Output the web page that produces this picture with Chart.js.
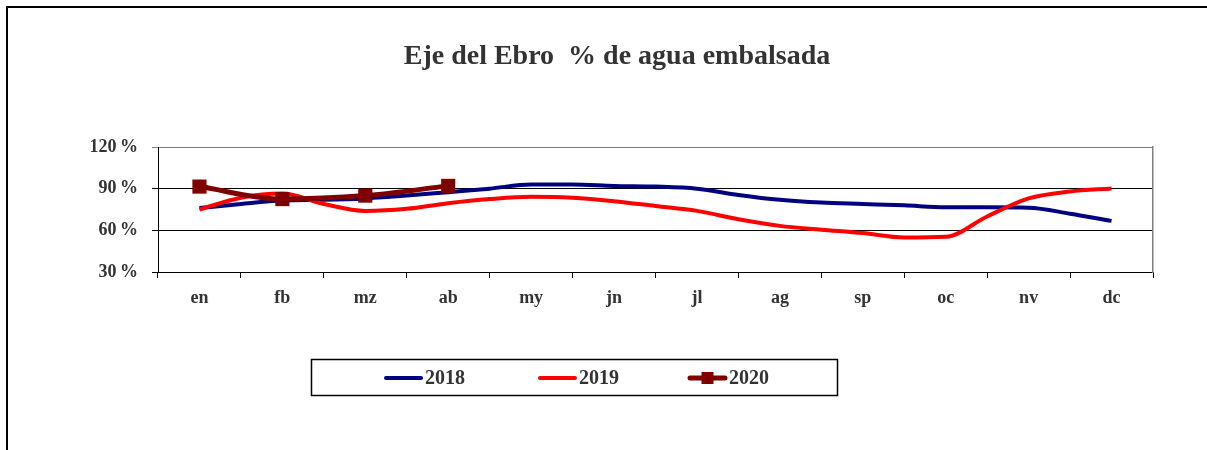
<!DOCTYPE html>
<html>
<head>
<meta charset="utf-8">
<script src="https://cdn.jsdelivr.net/npm/chart.js@4/dist/chart.umd.min.js"></script>
<style>
    html, body { margin: 0; padding: 0; background: #fff; overflow: hidden; }
    #wrap { position: relative; width: 1207px; height: 450px; overflow: hidden; }
    #frame { position: absolute; left: 6px; top: 6px; width: 1250px; height: 480px;
             border-left: 2px solid #000; border-top: 2px solid #000; }
    #box { position: absolute; left: 0; top: 0; width: 1234px; height: 450px; }
</style>
</head>
<body>
<div id="wrap">
    <div id="frame"></div>
    <div id="box"><canvas id="grafico"></canvas></div>
</div>
<script>
// meses del eje
const meses = ['en', 'fb', 'mz', 'ab', 'my', 'jn', 'jl', 'ag', 'sp', 'oc', 'nv', 'dc'];
const ticksY = [30, 60, 90, 120];

// posiciones (índice de mes, cada medio mes)
const pasos = [0, 0.5, 1, 1.5, 2, 2.5, 3, 3.5, 4, 4.5, 5, 5.5, 6, 6.5, 7, 7.5, 8, 8.5, 9, 9.5, 10, 10.5, 11];
const serie2018 = [76, 79, 81.5, 82, 83, 85, 87.5, 90, 93, 93, 92, 91.5, 90, 85.5, 82, 80, 79, 78, 76.6, 76.6, 76.3, 72, 66.8];
const serie2019 = [75, 83.5, 86.5, 79, 74, 75.5, 79.5, 82.5, 84.2, 83.5, 81, 77.5, 74, 68, 63.2, 60.5, 58, 54.8, 55.3, 70, 83, 88, 90.2];

const pasos2020 = [0, 1, 2, 3];
const serie2020 = [91.5, 82.5, 85, 92];

const colores = { 2018: '#000080', 2019: '#ff0000', 2020: '#800000' };
const texto = '#333333';
const fuente = 'Liberation Serif, Times New Roman, serif';

function puntos(xs, ys) {
    return xs.map((x, i) => ({ x: x, y: ys[i] }));
}

// leyenda propia con recuadro
const leyenda = {
    id: 'leyenda',
    afterDraw(chart) {
        const ctx = chart.ctx;
        ctx.save();
        ctx.strokeStyle = '#000';
        ctx.lineWidth = 1.5;
        ctx.strokeRect(311.5, 359.5, 526, 36);
        const inicios = [386, 540, 690];
        const cy = 378;
        ctx.font = 'bold 20px ' + fuente;
        ctx.textBaseline = 'middle';
        ctx.textAlign = 'left';
        chart.data.datasets.forEach((ds, i) => {
            const x0 = inicios[i];
            ctx.strokeStyle = ds.borderColor;
            ctx.lineWidth = ds.borderWidth;
            ctx.lineCap = 'round';
            ctx.beginPath();
            ctx.moveTo(x0, cy);
            ctx.lineTo(x0 + 35, cy);
            ctx.stroke();
            if (ds.pointRadius > 0) {
                ctx.fillStyle = ds.pointBackgroundColor;
                ctx.fillRect(x0 + 17.5 - 6, cy - 6, 12, 12);
            }
            ctx.fillStyle = texto;
            ctx.fillText(ds.label, x0 + 39, cy + 1);
        });
        ctx.restore();
    }
};

const ctx = document.getElementById('grafico').getContext('2d');
new Chart(ctx, {
    type: 'line',
    data: {
        datasets: [
            {
                label: '2018',
                data: puntos(pasos, serie2018),
                xAxisID: 'xd',
                borderColor: colores[2018],
                backgroundColor: colores[2018],
                borderWidth: 4,
                pointRadius: 0,
                cubicInterpolationMode: 'monotone',
                order: 3
            },
            {
                label: '2019',
                data: puntos(pasos, serie2019),
                xAxisID: 'xd',
                borderColor: colores[2019],
                backgroundColor: colores[2019],
                borderWidth: 4,
                pointRadius: 0,
                cubicInterpolationMode: 'monotone',
                order: 2
            },
            {
                label: '2020',
                data: puntos(pasos2020, serie2020),
                xAxisID: 'xd',
                borderColor: colores[2020],
                backgroundColor: colores[2020],
                borderWidth: 5,
                pointStyle: 'rect',
                pointRadius: 10,
                pointBorderWidth: 0,
                pointBackgroundColor: colores[2020],
                cubicInterpolationMode: 'monotone',
                order: 1
            }
        ]
    },
    options: {
        responsive: true,
        maintainAspectRatio: false,
        animation: false,
        layout: { padding: { left: 0, right: 0, top: 0, bottom: 138 } },
        scales: {
            x: {
                type: 'category',
                labels: meses,
                offset: true,
                grid: { offset: true, drawOnChartArea: false, tickLength: 6, color: '#000', lineWidth: 1 },
                border: { color: '#000', width: 1 },
                ticks: { color: texto, font: { family: fuente, size: 18, weight: 'bold' }, padding: 10, maxRotation: 0, autoSkip: false },
                afterFit(s) { s.height = 40; }
            },
            xd: {
                type: 'linear',
                position: 'bottom',
                min: -0.5,
                max: 11.5,
                display: false
            },
            y: {
                min: 30,
                max: 120,
                afterBuildTicks(s) { s.ticks = ticksY.map(v => ({ value: v })); },
                ticks: {
                    color: texto,
                    padding: 14,
                    font: { family: fuente, size: 18, weight: 'bold' },
                    callback: v => v + '\u2009%'
                },
                grid: {
                    tickLength: 6,
                    lineWidth: 1,
                    color: c => (c.tick && c.tick.value === 120) ? '#808080' : '#000'
                },
                border: { color: '#000', width: 1 },
                afterFit(s) { s.width = 158; }
            },
            yr: {
                position: 'right',
                min: 30,
                max: 120,
                ticks: { display: false },
                grid: { display: false, drawOnChartArea: false, drawTicks: false },
                border: { display: true, color: '#808080', width: 1.5 },
                afterFit(s) { s.width = 81; }
            }
        },
        plugins: {
            legend: { display: false },
            tooltip: { enabled: false },
            title: {
                display: true,
                text: 'Eje del Ebro  % de agua embalsada',
                color: texto,
                font: { family: fuente, size: 28, weight: 'bold', lineHeight: 1.2 },
                padding: { top: 40, bottom: 73.4 }
            }
        }
    },
    plugins: [leyenda]
});
</script>
</body>
</html>
